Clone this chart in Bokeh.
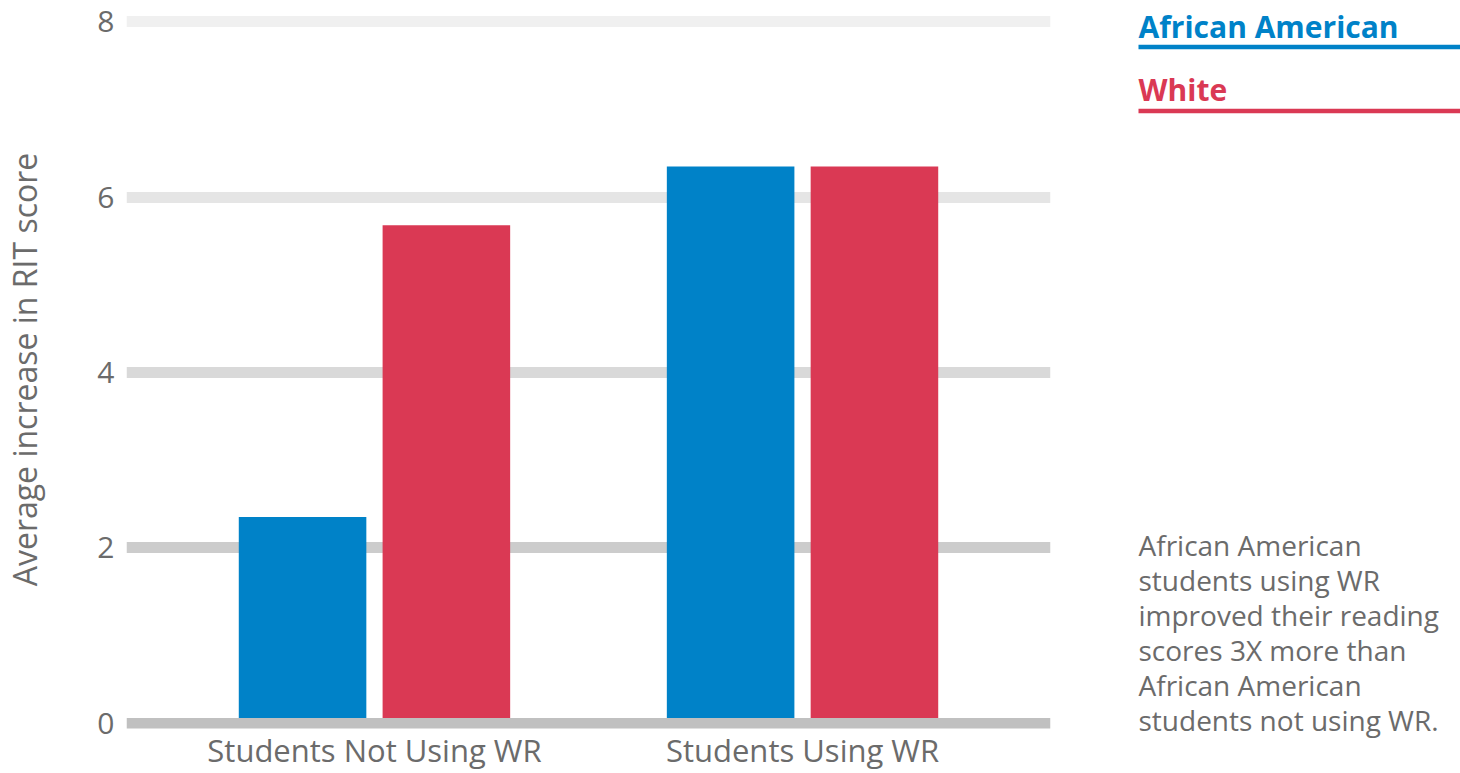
from bokeh.plotting import figure
from bokeh.models import ColumnDataSource, FactorRange, Range1d, FixedTicker
from bokeh.transform import dodge
from bokeh.layouts import row
from bokeh.core.properties import value
from bokeh.embed import file_html
from bokeh.resources import INLINE

# ---------------- data ----------------
categories = ["Students Not Using WR", "Students Using WR"]
african_american = [2.35, 6.35]
white = [5.68, 6.35]
series_names = ["African American", "White"]
y_ticks = [0, 2, 4, 6, 8]
band_colors = ["#c0c0c0", "#cccccc", "#d9d9d9", "#e5e5e5", "#f0f0f0"]
y_title = "Average increase in RIT score"
note_lines = [
    "African American",
    "students using WR",
    "improved their reading",
    "scores 3X more than",
    "African American",
    "students not using WR.",
]

BLUE = "#0082c8"
RED = "#da3954"
GREY = "#6b6b6b"
FONT = "Open Sans"

# ---------------- main chart ----------------
src = ColumnDataSource(dict(cat=categories, aa=african_american, wh=white))

p = figure(
    x_range=FactorRange(factors=categories, range_padding=0.0793),
    y_range=Range1d(-0.0625, 8.1307),
    width=1060, height=773,
    min_border_left=124, min_border_right=10,
    min_border_top=10, min_border_bottom=42,
    output_backend="svg", toolbar_location=None,
)
p.frame_align = False
p.outline_line_color = None
p.xgrid.visible = False
p.ygrid.visible = False
p.background_fill_color = "white"

# grey bands behind the bars (all but zero)
band_src = ColumnDataSource(dict(y=y_ticks[1:], c=band_colors[1:]))
p.hspan(y="y", line_color="c", line_width=11, source=band_src)

p.vbar(x=dodge("cat", -0.168, range=p.x_range), top="aa", width=0.298,
       bottom=0, source=src, fill_color=BLUE, line_color=None)
p.vbar(x=dodge("cat", 0.168, range=p.x_range), top="wh", width=0.298,
       bottom=0, source=src, fill_color=RED, line_color=None)

# baseline band over the bars
zero_src = ColumnDataSource(dict(y=y_ticks[:1], c=band_colors[:1]))
p.hspan(y="y", line_color="c", line_width=11, source=zero_src)

# axes
p.yaxis.ticker = FixedTicker(ticks=y_ticks)
p.yaxis.axis_label = y_title
for ax in (p.xaxis[0], p.yaxis[0]):
    ax.axis_line_color = None
    ax.major_tick_line_color = None
    ax.minor_tick_line_color = None
    ax.major_tick_out = 0
    ax.major_tick_in = 0
    ax.minor_tick_out = 0
    ax.minor_tick_in = 0
    ax.major_label_text_font = FONT
    ax.major_label_text_color = GREY
p.yaxis.major_label_text_font_size = "30px"
p.xaxis.major_label_text_font_size = "31px"
p.yaxis.major_label_standoff = 12
p.yaxis.axis_label_text_font = FONT
p.yaxis.axis_label_text_font_style = "normal"
p.yaxis.axis_label_text_font_size = "32px"
p.yaxis.axis_label_text_color = GREY
p.yaxis.axis_label_standoff = 48
p.xaxis.major_label_standoff = 0

# ---------------- right panel: legend + note (panel pixel coordinates) ----------------
q = figure(
    x_range=Range1d(1060, 1460), y_range=Range1d(773, 0),
    width=400, height=773, min_border=0,
    output_backend="svg", toolbar_location=None,
)
q.frame_align = False
q.axis.visible = False
q.grid.visible = False
q.outline_line_color = None

legend_colors = [BLUE, RED]
q.text(x=[1138, 1138], y=[25.5, 88.5], text=series_names,
       text_color=legend_colors, text_font=value(FONT),
       text_font_style="bold", text_font_size="30px",
       text_baseline="alphabetic", text_align="left")
q.quad(left=[1138, 1138], right=[1460, 1460], top=[44.3, 108.3], bottom=[48.7, 112.7],
       fill_color=legend_colors, line_color=None)

note_y = [544.5 + 35 * i for i in range(len(note_lines))]
q.text(x=[1138] * len(note_lines), y=note_y, text=note_lines,
       text_color=GREY, text_font=value(FONT), text_font_size="28px",
       text_baseline="alphabetic", text_align="left")

layout = row(p, q, spacing=0)
open("out.html", "w").write(file_html(layout, INLINE))
